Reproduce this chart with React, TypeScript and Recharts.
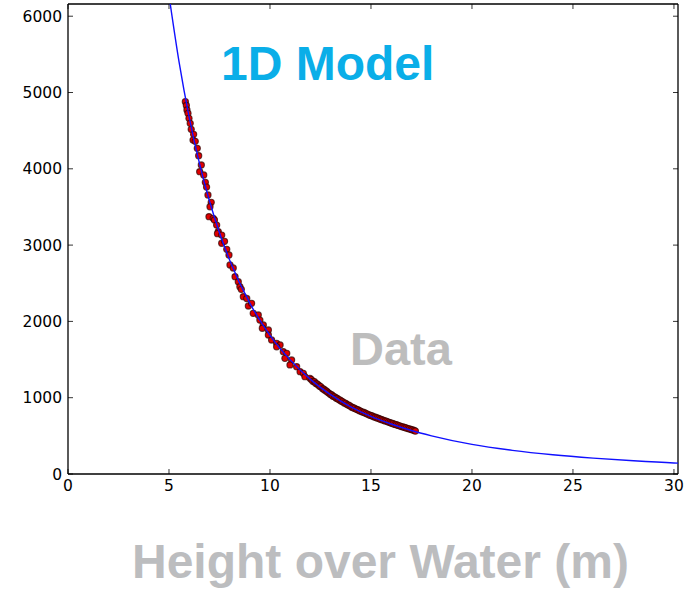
import React from 'react';
import { ComposedChart, Scatter, XAxis, YAxis } from 'recharts';

// Model curve
const curveX = [5.0, 5.5, 6, 6.5, 7, 7.5, 8, 9, 10, 11, 12, 13, 14, 15, 16, 17, 18, 20, 22, 24, 26, 28, 30, 30.5];
const curveY = [6273, 5398, 4675, 4080, 3581, 3163, 2806, 2240, 1818, 1496, 1240, 1040, 880, 755, 655, 570, 500, 388, 310, 252, 208, 173, 145, 140];

// Measured data (red dots)
const dataX = [
  5.81, 5.86, 5.89, 5.94, 5.99, 6.05, 6.10, 6.22, 6.19, 6.30, 6.40, 6.47, 6.60, 6.52, 6.72, 6.80, 6.86, 6.93, 7.09, 7.03,
  6.98, 7.19, 7.25, 7.36, 7.44, 7.40, 7.61, 7.61, 7.75, 7.86, 7.97, 8.02, 8.18, 8.27, 8.43, 8.51, 8.58, 8.68, 8.85, 8.93,
  9.09, 9.17, 9.42, 9.50, 9.67, 9.62, 9.92, 9.92, 10.08, 10.33, 10.50, 10.33, 10.66, 10.83, 10.74, 11.07, 10.99, 11.32, 11.49, 11.65,
  11.73, 11.98, 12.05, 12.12, 12.2, 12.26, 12.33, 12.4, 12.46, 12.52, 12.6, 12.66, 12.72, 12.8, 12.86, 12.93, 13.0, 13.06, 13.12, 13.2,
  13.27, 13.33, 13.4, 13.47, 13.54, 13.6, 13.68, 13.75, 13.82, 13.9, 13.97, 14.05, 14.12, 14.2, 14.28, 14.35, 14.43, 14.5, 14.58, 14.66,
  14.74, 14.82, 14.9, 14.98, 15.06, 15.14, 15.22, 15.3, 15.38, 15.46, 15.54, 15.62, 15.7, 15.78, 15.86, 15.94, 16.02, 16.1, 16.18, 16.26,
  16.34, 16.42, 16.5, 16.58, 16.66, 16.74, 16.82, 16.9, 16.98, 17.06, 17.14, 17.2,
];
const dataY = [
  4880, 4830, 4771, 4727, 4662, 4596, 4518, 4452, 4377, 4360, 4269, 4172, 4050, 3962, 3919, 3823, 3760, 3657, 3561, 3503,
  3372, 3351, 3330, 3263, 3176, 3150, 3132, 3024, 3050, 2945, 2870, 2739, 2700, 2586, 2520, 2455, 2420, 2324, 2300, 2202,
  2237, 2106, 2084, 2018, 1953, 1910, 1887, 1822, 1756, 1713, 1691, 1668, 1603, 1582, 1516, 1494, 1429, 1406, 1341, 1320,
  1275, 1254, 1238, 1215, 1210, 1188, 1180, 1165, 1150, 1142, 1120, 1112, 1098, 1085, 1070, 1058, 1042, 1036, 1020, 1012,
  996, 990, 975, 968, 955, 946, 932, 925, 910, 902, 890, 876, 868, 860, 848, 842, 830, 822, 812, 806,
  795, 786, 775, 768, 760, 750, 744, 735, 728, 718, 712, 704, 695, 690, 680, 674, 665, 660, 650, 646,
  637, 632, 622, 618, 610, 604, 596, 592, 584, 578, 570, 562,
];

const xTicks = [0, 5, 10, 15, 20, 25, 30];
const yTicks = [0, 1000, 2000, 3000, 4000, 5000, 6000];

const curveData = curveX.map((x, i) => ({ x, y: curveY[i] }));
const pointData = dataX.map((x, i) => ({ x, y: dataY[i] }));

const Dot = (props: any) => {
  const { cx, cy } = props;
  if (cx == null || cy == null) return <g />;
  return <circle cx={cx} cy={cy} r={3.1} fill="#e00000" stroke="#2a0000" strokeWidth={1.1} strokeOpacity={0.7} />;
};

const tickFont = { fontFamily: 'DejaVu Sans', fontSize: 15.5, fill: '#000' };
const Empty = () => <g />;

export default function App() {
  return (
    <div style={{ position: 'absolute', left: 0, top: 0, width: 690, height: 589, background: '#fff' }}>
      <ComposedChart
        width={690}
        height={589}
        margin={{ top: 3, right: 11, bottom: 85, left: 8 }}
      >
        <XAxis
          xAxisId="b"
          dataKey="x"
          type="number"
          domain={[0, 30.2]}
          ticks={xTicks}
          allowDataOverflow
          height={30}
          tickSize={-5}
          tickMargin={11}
          tick={tickFont}
          axisLine={{ stroke: '#000', strokeWidth: 1.3 }}
          tickLine={{ stroke: '#000', strokeWidth: 0.8 }}
        />
        <XAxis
          xAxisId="t"
          orientation="top"
          dataKey="x"
          type="number"
          domain={[0, 30.2]}
          ticks={xTicks}
          allowDataOverflow
          height={1}
          tickSize={-5}
          tick={Empty}
          axisLine={{ stroke: '#000', strokeWidth: 1.3 }}
          tickLine={{ stroke: '#000', strokeWidth: 0.8 }}
        />
        <YAxis
          yAxisId="l"
          dataKey="y"
          type="number"
          domain={[0, 6160]}
          ticks={yTicks}
          allowDataOverflow
          width={60}
          tickSize={-5}
          tickMargin={11}
          tick={tickFont}
          axisLine={{ stroke: '#000', strokeWidth: 1.3 }}
          tickLine={{ stroke: '#000', strokeWidth: 0.8 }}
        />
        <YAxis
          yAxisId="r"
          orientation="right"
          dataKey="y"
          type="number"
          domain={[0, 6160]}
          ticks={yTicks}
          allowDataOverflow
          width={1}
          tickSize={-5}
          tick={Empty}
          axisLine={{ stroke: '#000', strokeWidth: 1.3 }}
          tickLine={{ stroke: '#000', strokeWidth: 0.8 }}
        />
        <Scatter
          xAxisId="b"
          yAxisId="l"
          data={pointData}
          dataKey="y"
          shape={Dot}
          isAnimationActive={false}
        />
        <Scatter
          xAxisId="b"
          yAxisId="l"
          data={curveData}
          dataKey="y"
          shape={Empty}
          line={{ stroke: '#1010ff', strokeWidth: 1.4 }}
          lineJointType="monotoneX"
          isAnimationActive={false}
        />
      </ComposedChart>
      <svg width={690} height={589} style={{ position: 'absolute', left: 0, top: 0, pointerEvents: 'none' }}>
        <text x={221} y={80} fontFamily="Liberation Sans, Arial, sans-serif" fontWeight="bold" fontSize={48} fill="#0aaee8">
          1D Model
        </text>
        <text x={350} y={365} fontFamily="Liberation Sans, Arial, sans-serif" fontWeight="bold" fontSize={47} fill="#bdbdbd">
          Data
        </text>
        <text x={132} y={578} fontFamily="Liberation Sans, Arial, sans-serif" fontWeight="bold" fontSize={48} fill="#bcbdbf">
          Height over Water (m)
        </text>
      </svg>
    </div>
  );
}
